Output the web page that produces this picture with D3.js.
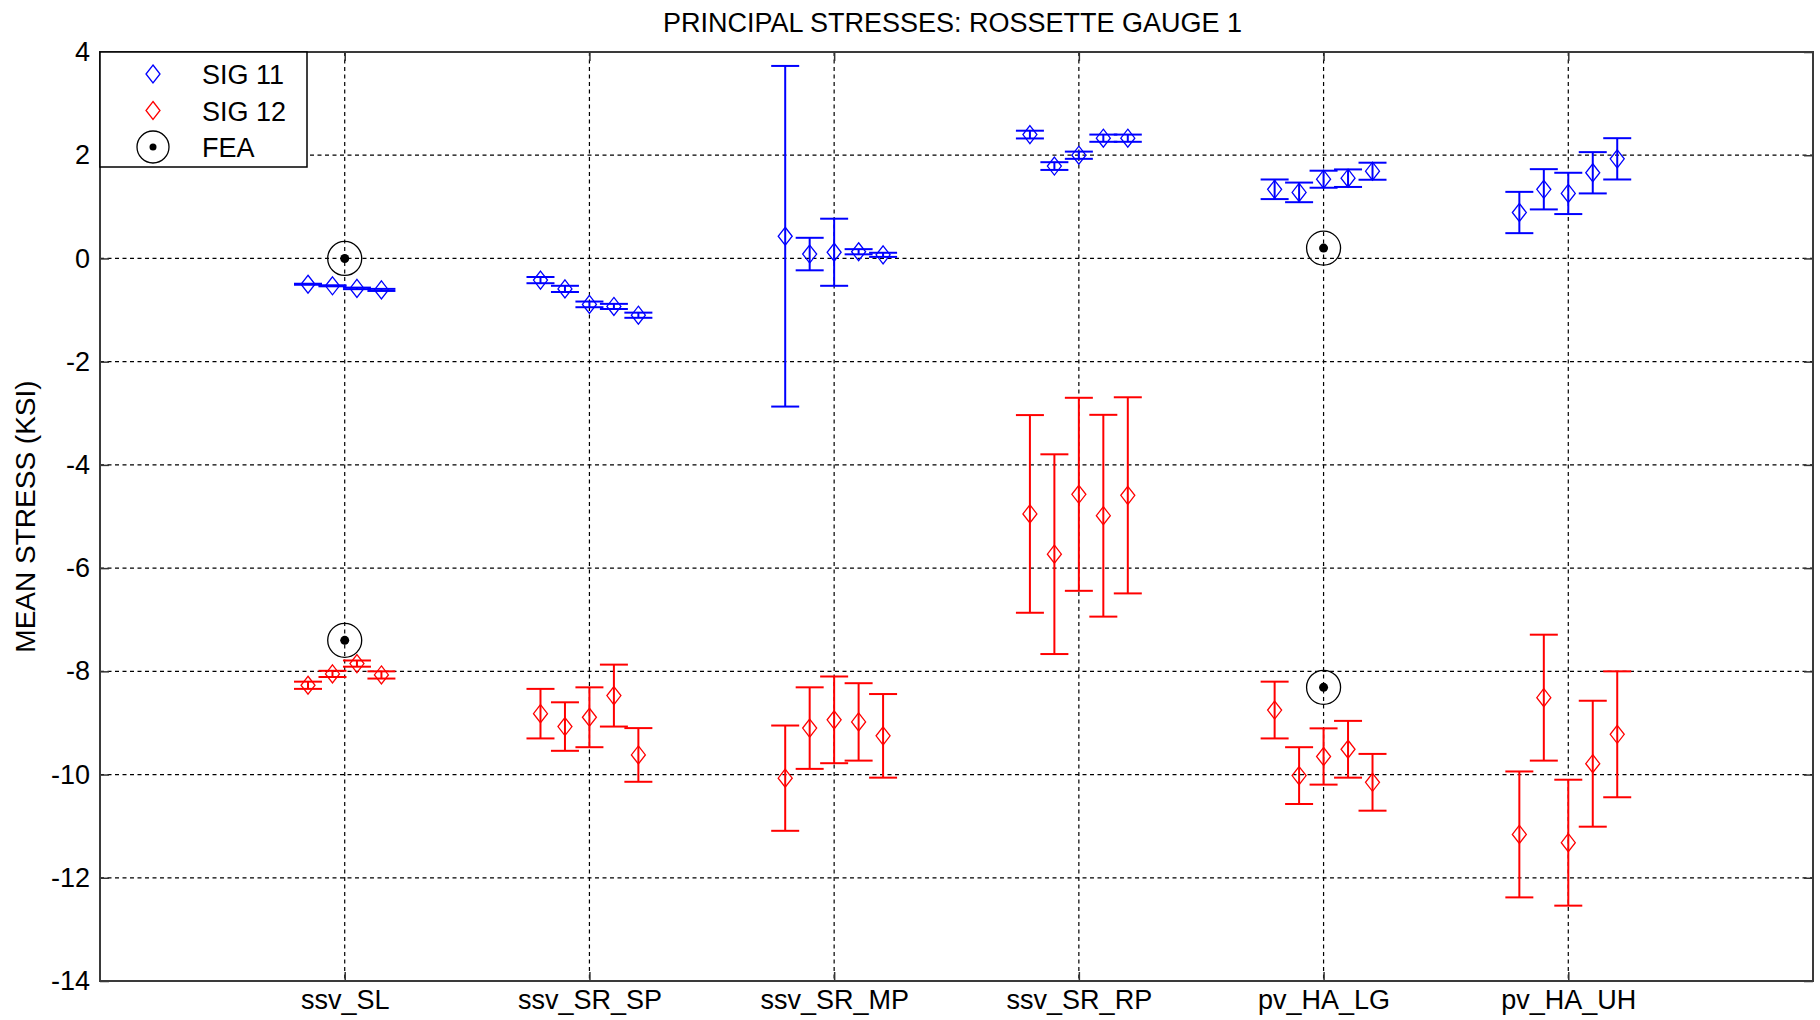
<!DOCTYPE html>
<html>
<head>
<meta charset="utf-8">
<script src="https://cdn.jsdelivr.net/npm/d3@7"></script>
<style>
  html, body { margin: 0; padding: 0; background: #fff; }
  svg { display: block; font-family: "Liberation Sans", Arial, sans-serif; }
</style>
</head>
<body>
<svg id="chart" width="1820" height="1020"></svg>
<script>
// Test configurations along the x axis
const categories = ["ssv_SL", "ssv_SR_SP", "ssv_SR_MP", "ssv_SR_RP", "pv_HA_LG", "pv_HA_UH"];

// SIG 11: mean stress per gauge reading, grouped by configuration (ksi)
const sig11Mean = [
  [-0.50, -0.53, -0.58, -0.61],
  [-0.42, -0.59, -0.89, -0.93, -1.10],
  [0.43, 0.085, 0.12, 0.13, 0.07],
  [2.40, 1.79, 2.00, 2.33, 2.33],
  [1.34, 1.28, 1.535, 1.555, 1.69],
  [0.89, 1.34, 1.26, 1.66, 1.93]
];
// SIG 11: half-width of each error bar (ksi)
const sig11Err = [
  [0.01, 0.01, 0.015, 0.02],
  [0.06, 0.06, 0.055, 0.05, 0.05],
  [3.30, 0.315, 0.65, 0.05, 0.04],
  [0.075, 0.075, 0.07, 0.07, 0.07],
  [0.19, 0.19, 0.165, 0.17, 0.165],
  [0.40, 0.39, 0.40, 0.40, 0.40]
];

// SIG 12: mean stress per gauge reading (ksi)
const sig12Mean = [
  [-8.27, -8.05, -7.85, -8.07],
  [-8.82, -9.07, -8.89, -8.47, -9.62],
  [-10.07, -9.10, -8.94, -8.98, -9.25],
  [-4.95, -5.73, -4.57, -4.985, -4.59],
  [-8.75, -10.02, -9.65, -9.51, -10.15],
  [-11.16, -8.51, -11.32, -9.79, -9.22]
];
// SIG 12: half-width of each error bar (ksi)
const sig12Err = [
  [0.07, 0.06, 0.06, 0.07],
  [0.48, 0.47, 0.58, 0.60, 0.52],
  [1.02, 0.79, 0.84, 0.75, 0.81],
  [1.915, 1.935, 1.87, 1.955, 1.90],
  [0.55, 0.55, 0.545, 0.55, 0.55],
  [1.22, 1.22, 1.22, 1.22, 1.22]
];

// Finite element predictions (null where no model result exists)
const feaSig11 = [0.0, null, null, null, 0.2, null];
const feaSig12 = [-7.4, null, null, null, -8.31, null];

const yTicks = [4, 2, 0, -2, -4, -6, -8, -10, -12, -14];

const svg = d3.select("#chart");
const margin = { left: 100, right: 1813, top: 52, bottom: 981 };
const fontSize = "27px";

const x = d3.scaleLinear().domain([0, categories.length + 1]).range([margin.left, margin.right]);
const y = d3.scaleLinear().domain([-14, 4]).range([margin.bottom, margin.top]);

const spacing = 0.1;   // x offset between readings inside a group
const capHalf = 14;    // half-width of error bar caps in px

// Flatten grouped readings into positioned points
function flatten(means, errs) {
  const pts = [];
  means.forEach((group, i) => {
    const n = group.length;
    group.forEach((m, j) => {
      pts.push({ x: i + 1 + (j - (n - 1) / 2) * spacing, mean: m, err: errs[i][j] });
    });
  });
  return pts;
}

// Grid
const grid = svg.append("g").attr("stroke", "#000").attr("stroke-width", 1.2)
  .attr("stroke-dasharray", "4,3.5");
grid.selectAll("line.h").data(yTicks.filter(t => t > -14 && t < 4)).enter().append("line")
  .attr("x1", margin.left).attr("x2", margin.right)
  .attr("y1", d => y(d)).attr("y2", d => y(d));
grid.selectAll("line.v").data(categories).enter().append("line")
  .attr("x1", (d, i) => x(i + 1)).attr("x2", (d, i) => x(i + 1))
  .attr("y1", margin.top).attr("y2", margin.bottom);

// Axes with inward ticks
const yAxisL = d3.axisLeft(y).tickValues(yTicks).tickSize(-9).tickPadding(10).tickFormat(d => String(d));
const yAxisR = d3.axisRight(y).tickValues(yTicks).tickSize(-9).tickFormat("");
const xAxisB = d3.axisBottom(x).tickValues(d3.range(1, categories.length + 1)).tickSize(-9).tickPadding(9)
  .tickFormat(d => categories[d - 1]);
const xAxisT = d3.axisTop(x).tickValues(d3.range(1, categories.length + 1)).tickSize(-9).tickFormat("");

function styleAxis(g) {
  g.select(".domain").remove();
  g.selectAll(".tick line").attr("stroke", "#333").attr("stroke-width", 1.5);
  g.selectAll(".tick text").attr("fill", "#000").style("font-size", fontSize)
    .style("font-family", "'Liberation Sans', Arial, sans-serif");
}
svg.append("g").attr("transform", `translate(${margin.left},0)`).call(yAxisL).call(styleAxis);
svg.append("g").attr("transform", `translate(${margin.right},0)`).call(yAxisR).call(styleAxis);
svg.append("g").attr("transform", `translate(0,${margin.bottom})`).call(xAxisB).call(styleAxis);
svg.append("g").attr("transform", `translate(0,${margin.top})`).call(xAxisT).call(styleAxis);

// Axes frame
svg.append("rect")
  .attr("x", margin.left).attr("y", margin.top)
  .attr("width", margin.right - margin.left).attr("height", margin.bottom - margin.top)
  .attr("fill", "none").attr("stroke", "#3a3a3a").attr("stroke-width", 2);

// Error bar series
function diamondPath(cx, cy, w, h) {
  return `M${cx},${cy - h}L${cx + w},${cy}L${cx},${cy + h}L${cx - w},${cy}Z`;
}

function drawSeries(means, errs, color) {
  const pts = flatten(means, errs);
  const g = svg.append("g").attr("stroke", color).attr("fill", "none");
  const bars = g.selectAll("g.bar").data(pts).enter().append("g");
  bars.append("line").attr("stroke-width", 2)
    .attr("x1", d => x(d.x)).attr("x2", d => x(d.x))
    .attr("y1", d => y(d.mean + d.err)).attr("y2", d => y(d.mean - d.err));
  bars.append("line").attr("stroke-width", 2)
    .attr("x1", d => x(d.x) - capHalf).attr("x2", d => x(d.x) + capHalf)
    .attr("y1", d => y(d.mean + d.err)).attr("y2", d => y(d.mean + d.err));
  bars.append("line").attr("stroke-width", 2)
    .attr("x1", d => x(d.x) - capHalf).attr("x2", d => x(d.x) + capHalf)
    .attr("y1", d => y(d.mean - d.err)).attr("y2", d => y(d.mean - d.err));
  bars.append("path").attr("stroke-width", 1.3).attr("fill", "none")
    .attr("d", d => diamondPath(x(d.x), y(d.mean), 7, 9));
}
drawSeries(sig11Mean, sig11Err, "#0000ff");
drawSeries(sig12Mean, sig12Err, "#ff0000");

// FEA markers
function drawFea(vals) {
  const pts = vals.map((v, i) => ({ x: i + 1, v })).filter(d => d.v !== null);
  const g = svg.append("g");
  g.selectAll("circle.ring").data(pts).enter().append("circle")
    .attr("cx", d => x(d.x)).attr("cy", d => y(d.v)).attr("r", 17)
    .attr("fill", "none").attr("stroke", "#000").attr("stroke-width", 1.3);
  g.selectAll("circle.dot").data(pts).enter().append("circle")
    .attr("cx", d => x(d.x)).attr("cy", d => y(d.v)).attr("r", 4.5)
    .attr("fill", "#000");
}
drawFea(feaSig11);
drawFea(feaSig12);

// Title and y label
svg.append("text").attr("x", (margin.left + margin.right) / 2 - 4).attr("y", 32)
  .attr("text-anchor", "middle").style("font-size", fontSize).attr("fill", "#000")
  .text("PRINCIPAL STRESSES: ROSSETTE GAUGE 1");
svg.append("text")
  .attr("transform", `translate(35,${(margin.top + margin.bottom) / 2}) rotate(-90)`)
  .attr("text-anchor", "middle").style("font-size", "28px").attr("fill", "#000")
  .text("MEAN STRESS (KSI)");

// Legend
const legendItems = [
  { label: "SIG 11", type: "diamond", color: "#0000ff" },
  { label: "SIG 12", type: "diamond", color: "#ff0000" },
  { label: "FEA", type: "fea", color: "#000" }
];
const lg = svg.append("g");
lg.append("rect").attr("x", margin.left).attr("y", margin.top).attr("width", 207).attr("height", 115)
  .attr("fill", "#fff").attr("stroke", "#000").attr("stroke-width", 1.5);
const rows = lg.selectAll("g.row").data(legendItems).enter().append("g")
  .attr("transform", (d, i) => `translate(${margin.left}, ${margin.top + 22 + i * 36.5})`);
rows.filter(d => d.type === "diamond").append("path")
  .attr("d", diamondPath(53, 0, 7, 9)).attr("fill", "none")
  .attr("stroke", d => d.color).attr("stroke-width", 1.3);
rows.filter(d => d.type === "fea").append("circle")
  .attr("cx", 53).attr("cy", 0).attr("r", 16).attr("fill", "none").attr("stroke", "#000").attr("stroke-width", 1.3);
rows.filter(d => d.type === "fea").append("circle")
  .attr("cx", 53).attr("cy", 0).attr("r", 3.5).attr("fill", "#000");
rows.append("text").attr("x", 102).attr("y", 10).style("font-size", fontSize).attr("fill", "#000")
  .text(d => d.label);
</script>
</body>
</html>
